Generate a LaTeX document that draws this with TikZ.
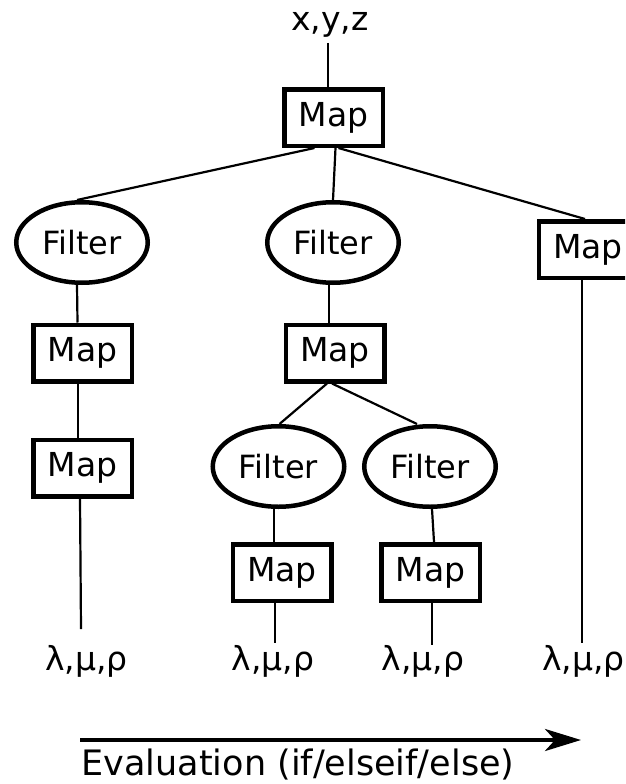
\documentclass[tikz,border=0pt]{standalone}
\usepackage{fontspec}
\setmainfont{DejaVu Sans}
\usetikzlibrary{shapes.geometric,arrows.meta}
\tikzset{
  mapbox/.style={draw,rectangle,line width=4.5pt,inner sep=0pt,minimum width=98.5pt,minimum height=56.5pt,font=\fontsize{33}{40}\selectfont},
  filt/.style={draw,ellipse,line width=4.5pt,inner sep=0pt,minimum width=131.5pt,minimum height=80.5pt,font=\fontsize{32}{38}\selectfont},
  lbl/.style={inner sep=0pt,anchor=base,font=\fontsize{33}{40}\selectfont},
  conn/.style={line width=2.2pt}
}
\begin{document}
\begin{tikzpicture}[x=1pt,y=-1pt]
\useasboundingbox (0,0) rectangle (625,784);
\clip (0,0) rectangle (625,784);
\fill[white] (0,0) rectangle (625,784);
% nodes
\node[lbl] (xyz) at (330,31) {x,y,z};
\node[mapbox] (map0) at (333.5,117.5) {Map};
\node[filt] (f1) at (82,242.5) {Filter};
\node[filt] (f2) at (333,242.5) {Filter};
\node[mapbox] (m7) at (588,249.5) {Map};
\node[mapbox] (m1) at (82.5,353) {Map};
\node[mapbox] (m2) at (82.5,468) {Map};
\node[mapbox] (m3) at (335,353) {Map};
\node[filt] (f3) at (278.5,466.5) {Filter};
\node[filt] (f4) at (430,466.5) {Filter};
\node[mapbox] (m5) at (282,572.5) {Map};
\node[mapbox] (m6) at (430.5,572.5) {Map};
\node[lbl] (l1) at (86.5,670) {λ,μ,ρ};
\node[lbl] (l2) at (273,670) {λ,μ,ρ};
\node[lbl] (l3) at (423,670) {λ,μ,ρ};
\node[lbl] (l4) at (583.5,670) {λ,μ,ρ};
\coordinate (e1) at (81,629);
\coordinate (e2) at (275,643);
\coordinate (e3) at (432,645);
\coordinate (e4) at (582,643);
\coordinate (xyzb) at (328,43);
\coordinate (ev0) at (80,740);
\coordinate (ev1) at (581,740);
\node[inner sep=0pt,anchor=base,font=\fontsize{35}{42}\selectfont] (evl) at (298,775) {Evaluation (if/elseif/else)};
% connectors
\draw[conn] (xyzb) -- ([xshift=-5.5pt]map0.north);
\draw[conn] ([xshift=-19pt]map0.south) -- ([xshift=-5pt]f1.north);
\draw[conn] ([xshift=2pt]map0.south) -- (f2.north);
\draw[conn] ([xshift=5pt]map0.south) -- ([xshift=-3pt]m7.north);
\draw[conn] ([xshift=-5pt]f1.south) -- ([xshift=-5pt]m1.north);
\draw[conn] ([xshift=-4.5pt]m1.south) -- ([xshift=-4.5pt]m2.north);
\draw[conn] ([xshift=-2.5pt]m2.south) -- (e1);
\draw[conn] ([xshift=-4pt]f2.south) -- ([xshift=-6pt]m3.north);
\draw[conn] ([xshift=-8pt]m3.south) -- ([xshift=1pt]f3.north);
\draw[conn] ([xshift=-3pt]m3.south) -- ([xshift=-13pt]f4.north);
\draw[conn] ([xshift=-4.5pt]f3.south) -- ([xshift=-8pt]m5.north);
\draw[conn] ([xshift=-7pt]m5.south) -- (e2);
\draw[conn] ([xshift=2pt]f4.south) -- ([xshift=3.5pt]m6.north);
\draw[conn] ([xshift=1.5pt]m6.south) -- (e3);
\draw[conn] ([xshift=-6pt]m7.south) -- (e4);
\draw[line width=4pt,-{Stealth[length=36pt,width=22pt,inset=10pt]}] (ev0) -- (ev1);
\end{tikzpicture}
\end{document}
